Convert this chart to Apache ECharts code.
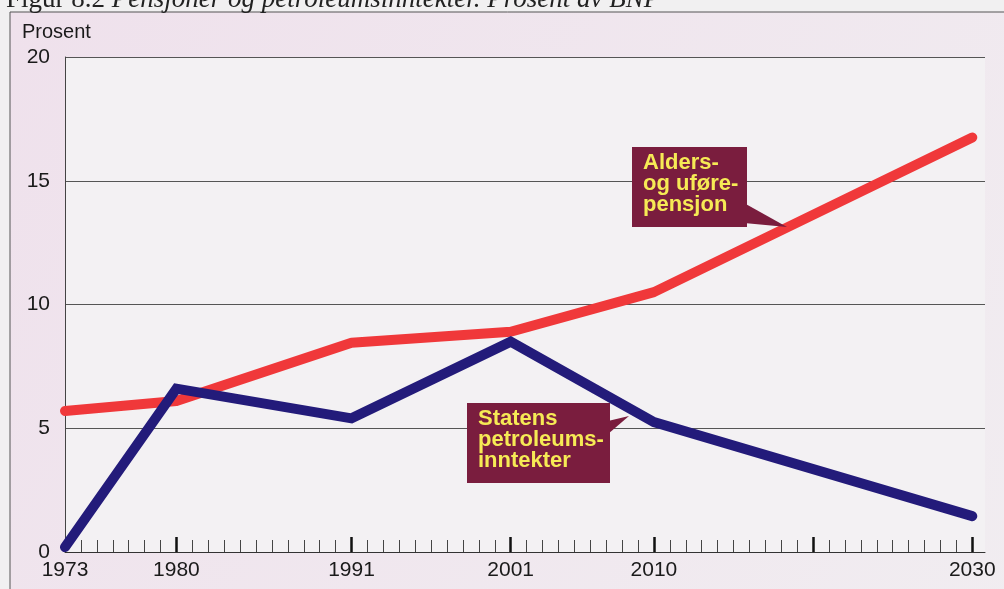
<!DOCTYPE html>
<html>
<head>
<meta charset="utf-8">
<script src="https://cdn.jsdelivr.net/npm/echarts@6/dist/echarts.min.js"></script>
<style>
html,body{margin:0;padding:0;background:#f1f0f1;}
#c{width:1004px;height:589px;}
</style>
</head>
<body>
<div id="c"></div>
<script>
// Data
var years = [1973, 1980, 1991, 2001, 2010, 2030];
var pensjon = [5.7, 6.1, 8.45, 8.9, 10.5, 16.75];
var petroleum = [0.2, 6.6, 5.4, 8.5, 5.25, 1.45];
var labelYears = [1973, 1980, 1991, 2001, 2010, 2030];
var majorTicks = [1980, 1991, 2001, 2010, 2020, 2030];
var yTicks = [0, 5, 10, 15, 20];
var titleText = 'Pensjoner og petroleumsinntekter. Prosent av BNP';

var minorTicks = [];
for (var y = 1974; y <= 2030; y++) { if (majorTicks.indexOf(y) < 0) minorTicks.push(y); }

function pairs(xs, vs) { return xs.map(function (x, i) { return [x, vs[i]]; }); }

var chart = echarts.init(document.getElementById('c'), null, {renderer: 'canvas'});
var font = 'Liberation Sans, Arial, Helvetica, sans-serif';
var boxColor = '#7a1d3e';
var txtColor = '#f6ea55';

var option = {
  backgroundColor: '#f1f0f1',
  animation: false,
  grid: {left: 65, right: 19, top: 57, bottom: 37, show: true, backgroundColor: '#f3f1f3', borderWidth: 0},
  xAxis: [{
    type: 'value', min: 1973, max: 2030.8,
    axisLine: {show: true, lineStyle: {color: '#333', width: 1}},
    axisTick: {show: true, inside: true, length: 12, customValues: minorTicks, lineStyle: {color: '#444', width: 1}},
    axisLabel: {show: true, customValues: labelYears, margin: 8, fontSize: 21, color: '#1a1a1a', fontFamily: font,
      formatter: function (v) { return String(Math.round(v)); }},
    splitLine: {show: false}
  }, {
    type: 'value', min: 1973, max: 2030.8, position: 'bottom',
    axisLine: {show: false},
    axisTick: {show: true, inside: true, length: 15, customValues: majorTicks, lineStyle: {color: '#111', width: 2.5}},
    axisLabel: {show: false},
    splitLine: {show: false}
  }],
  yAxis: {
    type: 'value', min: 0, max: 20, interval: 5,
    axisLine: {show: true, lineStyle: {color: '#444', width: 1}},
    axisTick: {show: false},
    axisLabel: {margin: 15, fontSize: 21, color: '#1a1a1a', fontFamily: font, padding: [5, 0, 0, 0]},
    splitLine: {show: true, lineStyle: {color: '#555', width: 1}}
  },
  series: [{
    name: 'Alders- og uførepensjon', type: 'line', data: pairs(years, pensjon), symbol: 'none',
    lineStyle: {color: '#f0383a', width: 10, cap: 'round', join: 'round'}, z: 3
  }, {
    name: 'Statens petroleumsinntekter', type: 'line', data: pairs(years, petroleum), symbol: 'none',
    lineStyle: {color: '#231b7a', width: 10, cap: 'round', join: 'miter'}, z: 4
  }],
  graphic: [
    {type: 'rect', z: -10, silent: true, shape: {x: 10, y: 12, width: 1100, height: 700},
     style: {fill: new echarts.graphic.LinearGradient(0, 0, 1, 1, [{offset: 0, color: '#efe1ec'}, {offset: 1, color: '#f1eef1'}]), stroke: '#555', lineWidth: 1}},
    {type: 'text', left: 6, top: -14, z: 10,
     style: {text: '{a|Figur 8.2 }{b|' + titleText + '}',
       rich: {a: {fontFamily: 'Liberation Serif, serif', fontSize: 27, fill: '#222'},
              b: {fontFamily: 'Liberation Serif, serif', fontStyle: 'italic', fontSize: 27, fill: '#222'}}}},
    {type: 'text', left: 22, top: 22, z: 10,
     style: {text: 'Prosent', fontFamily: font, fontSize: 20, fill: '#1a1a1a'}},
    // Annotation 1
    {type: 'polygon', z: 20, shape: {points: [[744, 203], [744, 223], [787, 227]]}, style: {fill: boxColor}},
    {type: 'rect', z: 20, shape: {x: 632, y: 147, width: 115, height: 80}, style: {fill: boxColor}},
    {type: 'text', z: 21, left: 643, top: 152,
     style: {text: 'Alders-\nog uføre-\npensjon', fontFamily: font, fontWeight: 'bold', fontSize: 22, lineHeight: 21, fill: txtColor}},
    // Annotation 2
    {type: 'polygon', z: 20, shape: {points: [[608, 421], [608, 434], [629, 416]]}, style: {fill: boxColor}},
    {type: 'rect', z: 20, shape: {x: 467, y: 403, width: 143, height: 80}, style: {fill: boxColor}},
    {type: 'text', z: 21, left: 478, top: 408,
     style: {text: 'Statens\npetroleums-\ninntekter', fontFamily: font, fontWeight: 'bold', fontSize: 22, lineHeight: 21, fill: txtColor}}
  ]
};
chart.setOption(option);
</script>
</body>
</html>
